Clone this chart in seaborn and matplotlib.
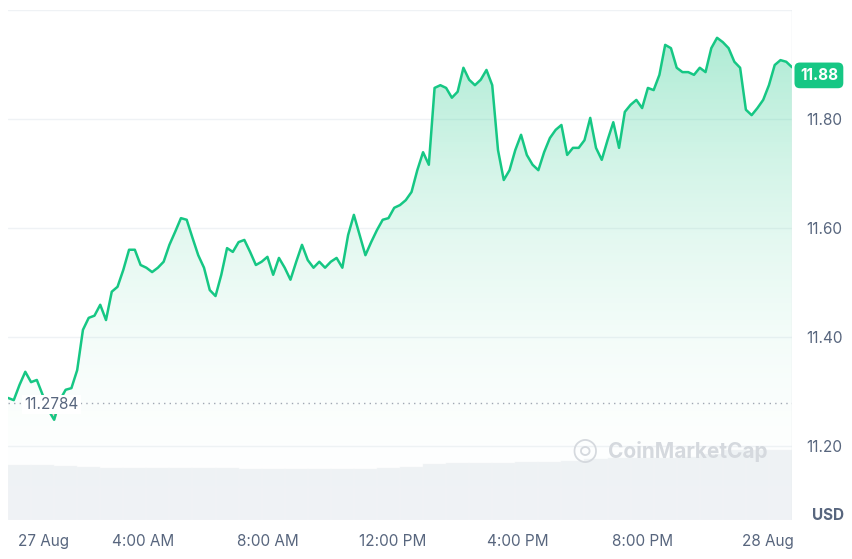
import numpy as np
import matplotlib
matplotlib.use('Agg')
import matplotlib.pyplot as plt
import seaborn as sns
from matplotlib.colors import LinearSegmentedColormap
from matplotlib.patches import Polygon

sns.set_theme(style='white')
plt.rcParams['font.family'] = ['Inter', 'DejaVu Sans']

# ── data ──────────────────────────────────────────────────────────────────────
prices = [
    11.288, 11.284, 11.312, 11.336, 11.317, 11.321, 11.294, 11.266, 11.248, 11.284,
    11.303, 11.306, 11.339, 11.413, 11.435, 11.439, 11.459, 11.431, 11.483, 11.492,
    11.523, 11.560, 11.560, 11.532, 11.527, 11.519, 11.527, 11.538, 11.569, 11.593,
    11.618, 11.615, 11.582, 11.550, 11.527, 11.486, 11.475, 11.514, 11.563, 11.556,
    11.574, 11.578, 11.556, 11.532, 11.538, 11.547, 11.514, 11.545, 11.527, 11.505,
    11.538, 11.569, 11.541, 11.527, 11.538, 11.527, 11.538, 11.545, 11.527, 11.587,
    11.624, 11.587, 11.550, 11.574, 11.596, 11.615, 11.618, 11.637, 11.642, 11.651,
    11.666, 11.706, 11.739, 11.716, 11.857, 11.862, 11.857, 11.839, 11.850, 11.894,
    11.872, 11.862, 11.872, 11.890, 11.862, 11.743, 11.688, 11.706, 11.743, 11.771,
    11.734, 11.716, 11.706, 11.739, 11.765, 11.780, 11.789, 11.734, 11.747, 11.747,
    11.761, 11.802, 11.747, 11.725, 11.761, 11.794, 11.747, 11.813, 11.826, 11.835,
    11.820, 11.857, 11.853, 11.881, 11.936, 11.930, 11.894, 11.886, 11.886, 11.881,
    11.894, 11.886, 11.930, 11.949, 11.941, 11.930, 11.905, 11.894, 11.817, 11.807,
    11.820, 11.835, 11.862, 11.899, 11.908, 11.905, 11.895,
]
hours = np.linspace(-0.32, 24.77, len(prices))
open_price = 11.2784
last_price = '11.88'

volume = [55, 55, 54, 53, 52, 52, 52, 52, 52, 52, 51, 51, 51, 51, 51, 51,
          52, 53, 56, 57, 57, 57, 58, 58, 59, 61, 62, 62, 62, 63, 66, 70, 70, 70]
vol_hours = np.linspace(-0.32, 24.77, len(volume) + 1)[:-1]

yticks = [11.20, 11.40, 11.60, 11.80]
xticks = [0, 4, 8, 12, 16, 20, 24]
xlabels = ['27 Aug', '4:00 AM', '8:00 AM', '12:00 PM', '4:00 PM', '8:00 PM', '28 Aug']

GREEN = '#16c784'

fig = plt.figure(figsize=(8.53, 5.59), dpi=100)
ax = fig.add_axes([8 / 853, 39 / 559, 784 / 853, 510 / 559])
ylo, yhi = 11.064, 12.0
ax.set_xlim(hours[0], hours[-1])
ax.set_ylim(ylo, yhi)

# volume bars on twin axis
axv = ax.twinx()
axv.set_ylim(0, 510)
w = vol_hours[1] - vol_hours[0]
axv.bar(vol_hours, volume, width=w, align='edge', color='#eff2f5', edgecolor='#f4f6f8', linewidth=0.3)
axv.set_yticks([])
for s in axv.spines.values():
    s.set_visible(False)
ax.set_zorder(axv.get_zorder() + 1)
ax.patch.set_visible(False)

# gradient fill under line
cmap = LinearSegmentedColormap.from_list('g', [(1, 1, 1, 0), (0.09, 0.78, 0.52, 0.35)])
grad = np.linspace(0, 1, 256).reshape(-1, 1)
im = ax.imshow(grad, aspect='auto', cmap=cmap, origin='lower',
               extent=[hours[0], hours[-1], ylo, max(prices)], zorder=1)
verts = [(hours[0], ylo)] + list(zip(hours, prices)) + [(hours[-1], ylo)]
poly = Polygon(verts, closed=True, transform=ax.transData, facecolor='none', edgecolor='none')
ax.add_patch(poly)
im.set_clip_path(poly)

sns.lineplot(x=hours, y=prices, ax=ax, color=GREEN, linewidth=1.8, zorder=3)
pr = np.array(prices)
ax.fill_between(hours, pr, open_price, where=pr < open_price,
                color='#ea3943', alpha=0.25, interpolate=True, zorder=2)

ax.axhline(open_price, color='#a0a7b3', lw=1, ls=(0, (1, 3)), zorder=2)
ax.text(0.2, open_price - 0.003, '11.2784', fontsize=11, color='#58667e', va='center',
        bbox=dict(facecolor='white', edgecolor='none', pad=1.5), zorder=4)

for t in yticks + [yhi]:
    ax.axhline(t, color='#eff2f5', lw=1, zorder=0)
for s in ax.spines.values():
    s.set_visible(False)
ax.axvline(hours[-1], color='#e4e8ec', lw=1)

ax.yaxis.tick_right()
ax.set_yticks(yticks)
ax.set_yticklabels([f'{t:.2f}' for t in yticks], fontsize=11, color='#58667e')
ax.tick_params(axis='y', length=0, pad=10)
ax.set_xticks(xticks)
ax.set_xticklabels(xlabels, fontsize=11, color='#58667e')
ax.get_xticklabels()[0].set_horizontalalignment('left')
ax.get_xticklabels()[0].set_x(-0.32)
ax.tick_params(axis='x', length=0, pad=10)
ax.set_xlabel('')
ax.set_ylabel('')

ax.text(1.01, float(last_price), last_price, transform=ax.get_yaxis_transform(),
        fontsize=11, fontweight='bold', color='white', va='center', ha='left',
        bbox=dict(boxstyle='round,pad=0.35', facecolor=GREEN, edgecolor='none'))
fig.text(828 / 853, 1 - 516 / 559, 'USD', fontsize=11, fontweight='bold',
         color='#58667e', ha='center', va='center')

# watermark
ax.text(0.765, 0.135, 'CoinMarketCap', transform=ax.transAxes, fontsize=15,
        fontweight='bold', color='#d5d9de', ha='left', va='center', zorder=2)
ax.text(0.718, 0.135, '◎', transform=ax.transAxes, fontsize=22,
        color='#d5d9de', ha='left', va='center', zorder=2)

fig.savefig('out.png', dpi=100)
